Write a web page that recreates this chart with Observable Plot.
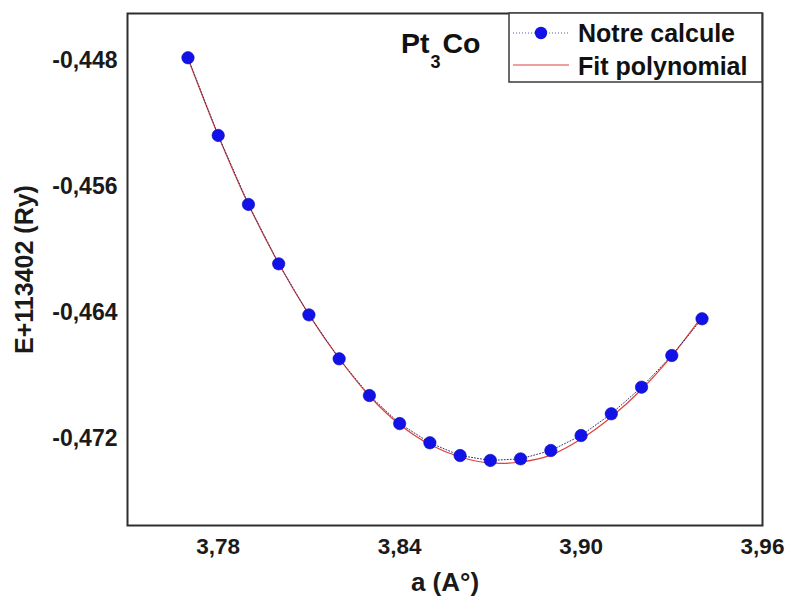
<!DOCTYPE html>
<html>
<head>
<meta charset="utf-8">
<script src="https://cdn.jsdelivr.net/npm/d3@7"></script>
<script src="https://cdn.jsdelivr.net/npm/@observablehq/plot@0.6"></script>
<style>
  body { margin: 0; background: #fff; }
  #chart svg { display: block; }
</style>
</head>
<body>
<div id="chart"></div>
<script>
// Lattice parameter a (Å) of Pt3Co and total energy E + 113402 (Ry)
const latticeA = [3.77, 3.78, 3.79, 3.80, 3.81, 3.82, 3.83, 3.84, 3.85,
                  3.86, 3.87, 3.88, 3.89, 3.90, 3.91, 3.92, 3.93, 3.94];
const energyCalc = [-0.44781, -0.45274, -0.45712, -0.46089, -0.46413, -0.46692,
                    -0.46925, -0.47103, -0.47225, -0.47306, -0.47337, -0.47327,
                    -0.47274, -0.47179, -0.47041, -0.46872, -0.46671, -0.46438];
// Polynomial fit curve, sampled at the same lattice parameters
const fitA = [3.77, 3.78, 3.79, 3.80, 3.81, 3.82, 3.83, 3.84, 3.85,
              3.86, 3.87, 3.88, 3.89, 3.90, 3.91, 3.92, 3.93, 3.94];
const energyFit = [-0.44786, -0.45274, -0.45712, -0.46087, -0.46411, -0.46690,
                   -0.46928, -0.47109, -0.47236, -0.47315, -0.47353, -0.47347,
                   -0.47303, -0.47201, -0.47061, -0.46887, -0.46674, -0.46423];

const xTicks = [3.78, 3.84, 3.90, 3.96];
const yTicks = [-0.448, -0.456, -0.464, -0.472];

const calc = latticeA.map((a, i) => ({a, e: energyCalc[i]}));
const fit = fitA.map((a, i) => ({a, e: energyFit[i]}));

const comma = (digits) => (d) => d.toFixed(digits).replace(".", ",");

const FONT = "'Liberation Sans', Arial, Helvetica, sans-serif";
const BLUE = "#1212e8";
const RED = "#e0403c";

const plot = Plot.plot({
  width: 786,
  height: 603,
  marginLeft: 127,
  marginRight: 24,
  marginTop: 13,
  marginBottom: 78,
  style: { fontFamily: FONT, background: "#fff", color: "#1a1a1a" },
  x: { domain: [3.75, 3.96] },
  y: { domain: [-0.4775, -0.445] },
  marks: [
    Plot.axisX({ticks: xTicks, tickFormat: comma(2), tickSize: 0, tickPadding: 13,
                fontSize: 22.5, fontWeight: "bold", label: null}),
    Plot.axisY({ticks: yTicks, tickFormat: comma(3), tickSize: 0, tickPadding: 10,
                fontSize: 23, fontWeight: "bold", label: null}),
    Plot.axisX({ticks: [], tickSize: 0, label: "a (A°)", labelAnchor: "center",
                labelArrow: "none", labelOffset: 65, fontSize: 26, fontWeight: "bold"}),
    Plot.axisY({ticks: [], tickSize: 0, label: "E+113402 (Ry)", labelAnchor: "center",
                labelArrow: "none", labelOffset: 112, fontSize: 25, fontWeight: "bold"}),
    Plot.line(fit, {x: "a", y: "e", stroke: RED, strokeWidth: 1.2, curve: "catmull-rom"}),
    Plot.line(calc, {x: "a", y: "e", stroke: "#33336a", strokeWidth: 1,
                     strokeDasharray: "1,2"}),
    Plot.dot(calc, {x: "a", y: "e", r: 6.2, fill: BLUE, stroke: "#0a0ab0", strokeWidth: 0.6}),
    Plot.frame({stroke: "#2e2e2e", strokeWidth: 2})
  ]
});

// Compound name and legend box in the upper right corner of the frame
const svg = d3.select(plot);
const g = svg.append("g").attr("font-family", FONT).attr("font-weight", "bold")
  .attr("text-anchor", "start");

const name = g.append("text").attr("x", 401).attr("y", 53)
  .attr("font-size", 28.5).attr("fill", "#111");
name.append("tspan").text("Pt");
name.append("tspan").attr("font-size", 18).attr("dy", 15).attr("dx", 1).text("3");
name.append("tspan").attr("dy", -15).attr("dx", 2).text("Co");

const lg = g.append("g");
lg.append("rect").attr("x", 509).attr("y", 13).attr("width", 253).attr("height", 69)
  .attr("fill", "#fff").attr("stroke", "#3a3a3a").attr("stroke-width", 1.5);
lg.append("line").attr("x1", 513).attr("x2", 569).attr("y1", 33).attr("y2", 33)
  .attr("stroke", "#5566aa").attr("stroke-width", 1).attr("stroke-dasharray", "1,2");
lg.append("circle").attr("cx", 541).attr("cy", 33).attr("r", 6.2).attr("fill", BLUE);
lg.append("text").attr("x", 578).attr("y", 33).attr("dy", "0.35em")
  .attr("font-size", 25).attr("fill", "#111").text("Notre calcule");
lg.append("line").attr("x1", 513).attr("x2", 569).attr("y1", 65).attr("y2", 65)
  .attr("stroke", RED).attr("stroke-width", 1.2);
lg.append("text").attr("x", 578).attr("y", 66).attr("dy", "0.35em")
  .attr("font-size", 25).attr("fill", "#111").text("Fit polynomial");

document.getElementById("chart").appendChild(plot);
</script>
</body>
</html>
